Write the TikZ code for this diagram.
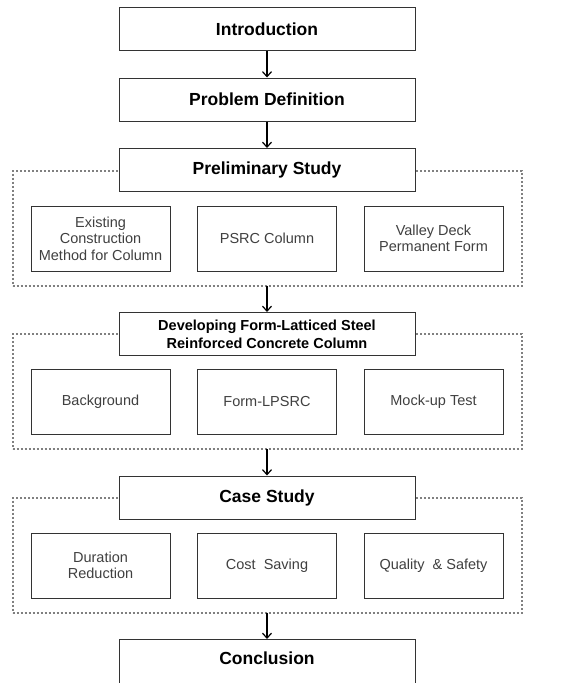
\documentclass[tikz,border=0pt]{standalone}
\usepackage{fontspec}
\setmainfont{Liberation Sans}
\usetikzlibrary{positioning,calc,fit,backgrounds,arrows.meta}

\begin{document}
\begin{tikzpicture}[node distance=26.5pt,
  m/.style={draw=black!80, line width=1pt, fill=white, minimum width=296pt, minimum height=43pt, align=center, font=\bfseries\fontsize{17.5}{18}\selectfont},
  s/.style={draw=black!80, line width=1pt, fill=white, minimum width=139pt, minimum height=65pt, align=center, text=black!75, font=\fontsize{14.5}{16.5}\selectfont},
  g/.style={draw=black!50, line width=2pt, dash pattern=on 2pt off 2pt, inner sep=0pt, outer sep=0pt},
  a/.style={-{Straight Barb[length=5pt,width=9pt]}, line width=1.2pt}]
	\useasboundingbox (0,0) rectangle (568pt,-683pt);

	\node[m] (I) at (267pt,-29pt) {Introduction};
	\node[m, below=of I] (P) {Problem Definition};
	\node[m, below=of P] (S) {Preliminary Study};
	\node[s, below=13.5pt of S] (S2) {PSRC Column};
	\node[s, left=of S2] (S1) {Existing\\Construction\\Method for Column};
	\node[s, right=of S2] (S3) {Valley Deck\\Permanent Form};
	\coordinate (G1a) at ($(S1.north west)+(-18pt,35pt)$);
	\coordinate (G1b) at ($(S3.south east)+(18pt,-14pt)$);
	\begin{scope}[on background layer]
		\node[g, fit=(G1a)(G1b)] (G1) {};
	\end{scope}

	\node[m, below=of G1, font=\bfseries\fontsize{14.5}{18}\selectfont] (D) {Developing Form-Latticed Steel\\Reinforced Concrete Column};
	\node[s, below=13pt of D] (D2) {Form-LPSRC};
	\node[s, left=of D2] (D1) {Background};
	\node[s, right=of D2] (D3) {Mock-up Test};
	\coordinate (G2a) at ($(D1.north west)+(-18pt,35pt)$);
	\coordinate (G2b) at ($(D3.south east)+(18pt,-14pt)$);
	\begin{scope}[on background layer]
		\node[g, fit=(G2a)(G2b)] (G2) {};
	\end{scope}

	\node[m, below=of G2] (C) {Case Study};
	\node[s, below=13pt of C] (C2) {Cost~~Saving};
	\node[s, left=of C2] (C1) {Duration\\Reduction};
	\node[s, right=of C2] (C3) {Quality~~\&~Safety};
	\coordinate (G3a) at ($(C1.north west)+(-18pt,35pt)$);
	\coordinate (G3b) at ($(C3.south east)+(18pt,-14pt)$);
	\begin{scope}[on background layer]
		\node[g, fit=(G3a)(G3b)] (G3) {};
	\end{scope}

	% cut off at the bottom of the page
	\node[m, below=of G3, text height=22pt, text depth=25pt] (E) {Conclusion};

	\draw[a] (I) -- (P);
	\draw[a] (P) -- (S);
	\draw[a] (G1.south) -- (D);
	\draw[a] (G2.south) -- (C);
	\draw[a] (G3.south) -- (E);
\end{tikzpicture}
\end{document}
